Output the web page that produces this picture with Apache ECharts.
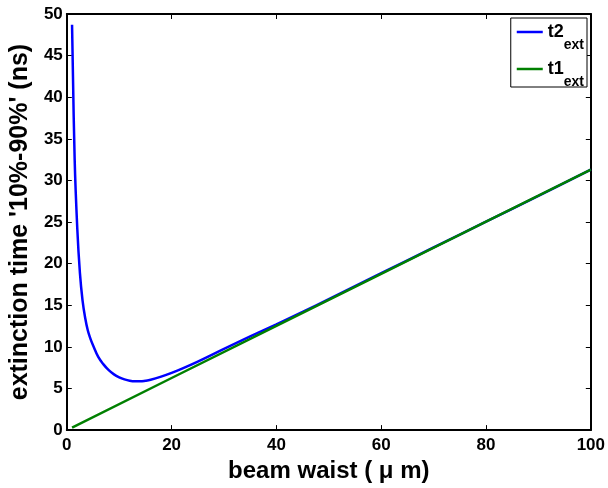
<!DOCTYPE html>
<html>
<head>
<meta charset="utf-8">
<script src="https://cdn.jsdelivr.net/npm/echarts@6/dist/echarts.min.js"></script>
<style>
  html, body { margin: 0; padding: 0; background: #fff; }
  #chart { width: 608px; height: 488px; }
</style>
</head>
<body>
<div id="chart"></div>
<script>
// beam waist (um) vs extinction time (ns)
var t2Waist = [1, 1.5, 2, 2.5, 3, 3.5, 4, 4.5, 5, 6, 7, 8, 9, 10, 11, 12, 13, 14, 15, 16, 18, 20, 22, 25, 30, 35, 40, 45, 50, 60, 70, 80, 90, 100];
var t2Time = [48.7, 32.5, 24.2, 18.9, 15.6, 13.5, 12.0, 11.0, 10.2, 8.8, 7.9, 7.2, 6.7, 6.35, 6.1, 5.93, 5.86, 5.86, 5.93, 6.05, 6.43, 6.88, 7.38, 8.22, 9.75, 11.25, 12.7, 14.2, 15.75, 18.85, 21.95, 25.05, 28.15, 31.3];
var t1Waist = [1, 20, 40, 60, 80, 100];
var t1Time = [0.31, 6.26, 12.52, 18.78, 25.04, 31.3];

var xTicks = { min: 0, max: 100, interval: 20 };
var yTicks = { min: 0, max: 50, interval: 5 };

function pairs(xs, ys) {
  return xs.map(function (x, i) { return [x, ys[i]]; });
}

var font = 'Liberation Sans, Arial, sans-serif';
var axisLine = { show: true, onZero: false, lineStyle: { color: '#000', width: 2 } };
var axisTick = { show: true, inside: true, length: 5, lineStyle: { color: '#000', width: 1 } };

var chart = echarts.init(document.getElementById('chart'));
chart.setOption({
  animation: false,
  backgroundColor: '#fff',
  grid: { left: 65, right: 17, top: 14, bottom: 53 },
  xAxis: [{
    type: 'value', position: 'bottom',
    min: xTicks.min, max: xTicks.max, interval: xTicks.interval,
    name: 'beam waist ( \u03bc m)', nameLocation: 'middle', nameGap: 23,
    nameTextStyle: { fontFamily: font, fontWeight: 'bold', fontSize: 24, color: '#000' },
    axisLine: axisLine, axisTick: axisTick,
    axisLabel: { margin: 7, fontFamily: font, fontWeight: 'bold', fontSize: 17, color: '#000' },
    splitLine: { show: false }
  }, {
    type: 'value', position: 'top',
    min: xTicks.min, max: xTicks.max, interval: xTicks.interval,
    axisLine: axisLine, axisTick: axisTick,
    axisLabel: { show: false }, splitLine: { show: false }
  }],
  yAxis: [{
    type: 'value', position: 'left',
    min: yTicks.min, max: yTicks.max, interval: yTicks.interval,
    name: "extinction time '10%-90%' (ns)", nameLocation: 'middle', nameGap: 28,
    nameTextStyle: { fontFamily: font, fontWeight: 'bold', fontSize: 25, color: '#000' },
    axisLine: axisLine, axisTick: axisTick,
    axisLabel: { margin: 4, fontFamily: font, fontWeight: 'bold', fontSize: 17, color: '#000' },
    splitLine: { show: false }
  }, {
    type: 'value', position: 'right',
    min: yTicks.min, max: yTicks.max, interval: yTicks.interval,
    axisLine: axisLine, axisTick: axisTick,
    axisLabel: { show: false }, splitLine: { show: false }
  }],
  legend: {
    orient: 'vertical',
    right: 21, top: 18,
    padding: [-6, 3, -2, 6],
    itemGap: -3,
    icon: 'rect',
    itemWidth: 26, itemHeight: 2.5,
    borderColor: '#000', borderWidth: 1,
    backgroundColor: '#fff',
    data: ['t2', 't1'],
    formatter: function (name) { return '{a|' + name + '}{b|ext}'; },
    textStyle: {
      rich: {
        a: { fontFamily: font, fontWeight: 'bold', fontSize: 18, lineHeight: 20, color: '#000' },
        b: { fontFamily: font, fontWeight: 'bold', fontSize: 14, lineHeight: 13, padding: [26, 0, 0, 0], color: '#000' }
      }
    }
  },
  series: [{
    name: 't2', type: 'line', xAxisIndex: 0, yAxisIndex: 0,
    data: pairs(t2Waist, t2Time),
    smooth: 0.4, symbol: 'none',
    lineStyle: { color: '#0000ff', width: 2.5 },
    itemStyle: { color: '#0000ff' }
  }, {
    name: 't1', type: 'line', xAxisIndex: 0, yAxisIndex: 0,
    data: pairs(t1Waist, t1Time),
    symbol: 'none',
    lineStyle: { color: '#008000', width: 2.5 },
    itemStyle: { color: '#008000' }
  }]
});
</script>
</body>
</html>
